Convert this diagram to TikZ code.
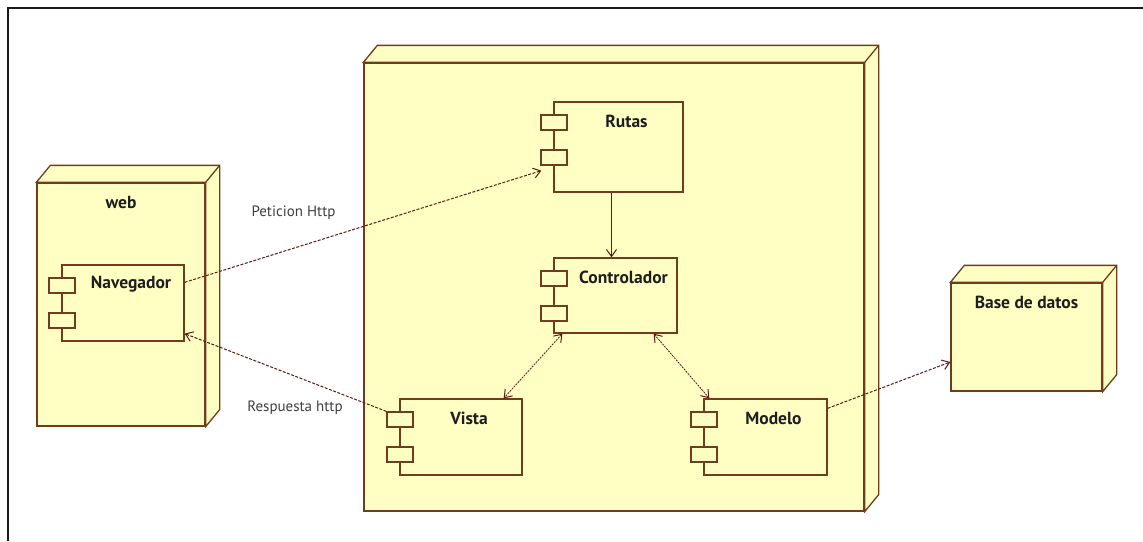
\documentclass[tikz,border=0pt]{standalone}
\usepackage{fontspec}
\setmainfont{PT Sans}
\usetikzlibrary{arrows.meta,calc,fit}
\definecolor{umlfill}{RGB}{255,255,196}
\definecolor{umlline}{RGB}{112,60,30}
\definecolor{deparrow}{RGB}{96,24,20}
\definecolor{inktext}{RGB}{30,30,30}

\tikzset{
  face/.style={draw=umlline, fill=umlfill, line width=1.3pt, inner sep=0pt},
  port/.style={draw=umlline, fill=umlfill, line width=1.3pt, inner sep=0pt,
               minimum width=26pt, minimum height=15pt},
  title/.style={font=\bfseries\fontsize{17.5}{20}\selectfont, text=inktext, inner sep=0pt},
  conlabel/.style={font=\fontsize{15}{17}\selectfont, text=inktext!85, inner sep=0pt},
  barb/.tip={Straight Barb[length=7pt,width=10pt,line width=1pt]},
  dep/.style={draw=deparrow, line width=1pt, dash pattern=on 3pt off 1.5pt, -barb},
  call/.style={draw=deparrow, line width=1pt, -barb},
  assoc/.style={draw=deparrow, line width=0.8pt, dash pattern=on 2pt off 1pt, barb-barb},
  frame/.style={draw=black!90, line width=2.5pt},
}

% 3D deployment node: name, x1, y1, x2, y2, title
\newcommand\umlnode[6]{%
  \coordinate (#1-nw) at (#2,#3);
  \coordinate (#1-se) at (#4,#5);
  \node[face, fit=(#1-nw)(#1-se)] (#1) {};
  \draw[face] (#1.north west) -- ++(14,-17) -| ($(#1.south east)+(14,-17)$)
     -- (#1.south east) -- (#1.north east) -- cycle;
  \draw[face] (#1.north east) -- ++(14,-17);
  \node[title] (#1-t) at ($(#1.north)+(0,20)$) {#6};
}

% component with two ports: name, x1, y1, x2, y2, title
\newcommand\umlcomp[6]{%
  \coordinate (#1-nw) at (#2,#3);
  \coordinate (#1-se) at (#4,#5);
  \node[face, fit=(#1-nw)(#1-se)] (#1) {};
  \node[port, anchor=north west] (#1-p1) at ($(#1.north west)+(-13,13)$) {};
  \node[port, anchor=north west] (#1-p2) at ($(#1.north west)+(-13,48)$) {};
  \node[title] (#1-t) at ($(#1.north)+(8,20)$) {#6};
}

\begin{document}
\begin{tikzpicture}[x=1pt,y=-1pt]
  \useasboundingbox (0,0) rectangle (1143,541);
  \fill[white] (0,0) rectangle (1143,541);

  % outer frame
  \draw[frame] (8,541) -- (8,8) -- (1143,8);

  % nodes
  \umlnode{web}{37}{183}{205}{426}{web}
  \umlnode{srv}{364}{63}{864}{511}{}
  \umlnode{bd}{951}{283}{1102}{391}{Base de datos}

  % components
  \umlcomp{nav}{62}{265}{184}{341}{Navegador}
  \umlcomp{rutas}{554}{102}{683}{192}{Rutas}
  \umlcomp{ctrl}{554}{258}{677}{333}{Controlador}
  \umlcomp{vista}{400}{399}{522}{475}{Vista}
  \umlcomp{modelo}{704}{399}{827}{475}{Modelo}

  % connectors
  \draw[dep] ($(nav.north east)+(0,18)$) -- ($(rutas-p2.south west)+(1,5)$);
  \draw[dep] (vista-p1.north west) -- ($(nav.south east)+(0,-8)$);
  \draw[call] ($(rutas.south)+(-7,0)$) -- ($(ctrl.north)+(-4,0)$);
  \draw[assoc] ($(ctrl.south west)+(9,0)$) -- ($(vista.north east)+(-19,0)$);
  \draw[assoc] ($(ctrl.south east)+(-24,0)$) -- ($(modelo.north west)+(6,0)$);
  \draw[dep] ($(modelo.north east)+(0,10)$) -- ($(bd.west)+(0,25)$);

  % connector labels
  \node[conlabel] (lpet) at (293.5,213) {Peticion Http};
  \node[conlabel] (lres) at (295,408) {Respuesta http};
\end{tikzpicture}
\end{document}
